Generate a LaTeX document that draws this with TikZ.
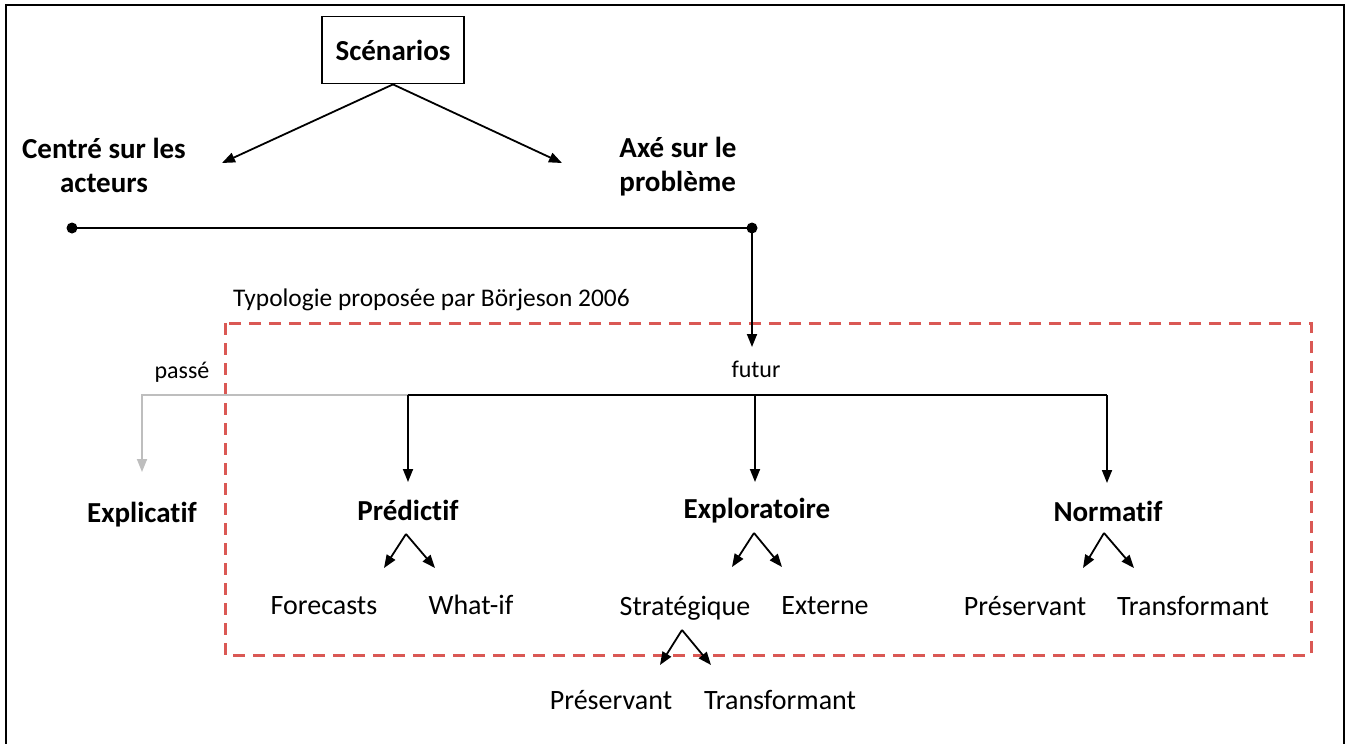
\documentclass[tikz,border=0pt]{standalone}
\usepackage{fontspec}
\setmainfont{Carlito}[Ligatures={NoCommon}]
\usetikzlibrary{arrows.meta}
\definecolor{boxred}{RGB}{218,88,84}
\definecolor{pastgray}{RGB}{190,190,190}
\begin{document}
\begin{tikzpicture}[x=1pt,y=-1pt,
  lbl/.style={inner sep=0pt, font=\fontsize{28}{34}\selectfont},
  blbl/.style={inner sep=0pt, font=\fontsize{29}{34}\selectfont\bfseries, align=center},
  smalllbl/.style={inner sep=0pt, font=\fontsize{24}{28}\selectfont},
  conn/.style={line width=1.8pt, -{Triangle[length=13pt,width=10pt]}},
  plain/.style={line width=1.8pt},
  dot/.style={circle, fill=black, inner sep=0pt, minimum size=11pt}
]
\useasboundingbox (0,0) rectangle (1350,744);
% outer frame
\draw[line width=2.5pt] (6,750) -- (6,5) -- (1344,5) -- (1344,750);

% top part
\node[draw, line width=1.8pt, minimum width=142pt, minimum height=67pt, blbl] (scen) at (393,50) {Scénarios};
\node[blbl] (acteurs) at (104,165) {Centré sur les\\acteurs};
\node[blbl, align=left] (probleme) at (678,167) {Axé sur le\\problème};
\coordinate (tipA) at (222,163);
\coordinate (tipB) at (562,163);
\draw[conn] (scen.south) -- (tipA);
\draw[conn] (scen.south) -- (tipB);

\node[dot] (dl) at (72,228) {};
\node[dot] (dr) at (752,228) {};
\draw[plain] (dl.center) -- (dr.center);

% Borjeson box
\node[smalllbl, font=\fontsize{25.4}{30}\selectfont, anchor=west] (typo) at (233,300) {Typologie proposée par Börjeson 2006};
\draw[boxred, line width=3pt, dash pattern=on 12pt off 8pt] (225,323) rectangle (1311,655);

\node[smalllbl] (futur) at (756,369) {futur};
\node[smalllbl] (passe) at (182,372) {passé};
\draw[conn] (dr.center) -- (752,347) coordinate (futtip);

% level 2
\node[blbl] (explicatif) at (142,515) {Explicatif};
\node[blbl] (predictif) at (408,510) {Prédictif};
\node[blbl] (explor) at (757,511) {Exploratoire};
\node[blbl] (normatif) at (1108,511) {Normatif};

\coordinate (jP) at (408,395);
\coordinate (jE) at (755,395);
\coordinate (jN) at (1107,395);
\draw[plain] (jP) -- (jN);
\draw[pastgray, line width=1.8pt, -{Triangle[length=13pt,width=10pt]}] (jP) -- (142,395) -- (142,472);
\draw[conn] (jP) -- (408,482);
\draw[conn] (jE) -- (755,482);
\draw[conn] (jN) -- (1107,483);

% level 3
\node[lbl] (forecasts) at (324,606) {Forecasts};
\node[lbl] (whatif) at (471,605) {What-if};
\node[lbl] (strat) at (685,608) {Stratégique};
\node[lbl] (externe) at (825,606) {Externe};
\node[lbl] (npres) at (1025,606) {Préservant};
\node[lbl] (ntrans) at (1193,606) {Transformant};

\coordinate (aP) at (406,534);
\draw[conn] (aP) -- (384,568);
\draw[conn] (aP) -- (435,568);
\coordinate (aE) at (754,533);
\draw[conn] (aE) -- (732,567);
\draw[conn] (aE) -- (782,567);
\coordinate (aN) at (1104,533);
\draw[conn] (aN) -- (1083,568);
\draw[conn] (aN) -- (1134,568);

% level 4
\node[lbl] (spres) at (611,700) {Préservant};
\node[lbl] (strans) at (780,700) {Transformant};
\coordinate (aS) at (682,630);
\draw[conn] (aS) -- (660,665);
\draw[conn] (aS) -- (711,665);
\end{tikzpicture}
\end{document}
